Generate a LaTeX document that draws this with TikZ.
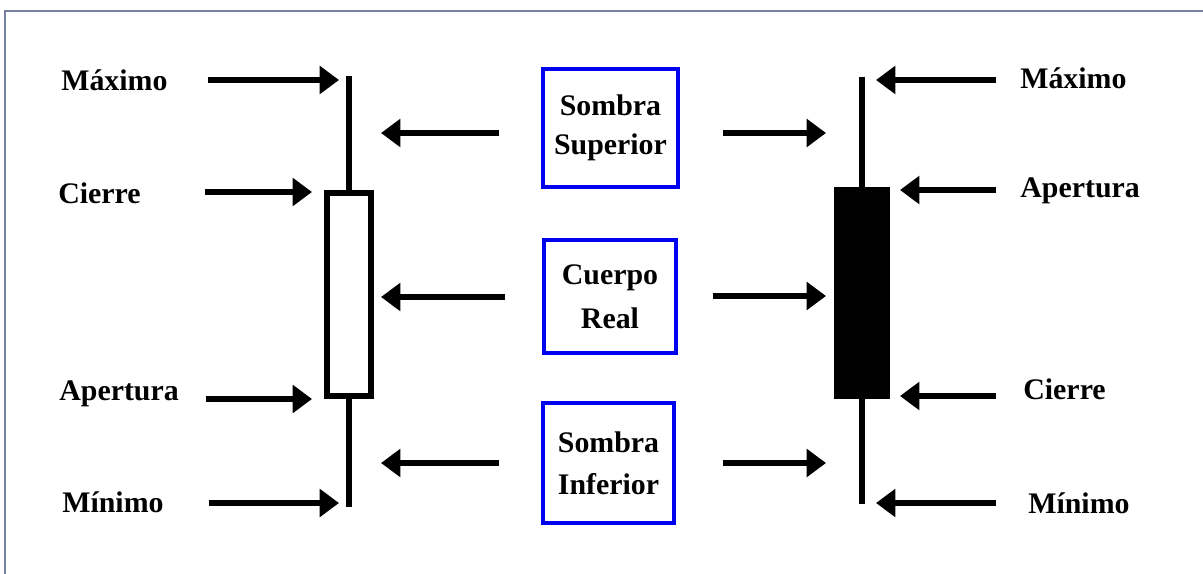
\documentclass[tikz,border=0pt]{standalone}
\usepackage{fontspec}
\setmainfont{Liberation Serif}
\usetikzlibrary{arrows.meta}
\definecolor{framec}{RGB}{118,128,160}
\definecolor{boxblue}{RGB}{0,0,240}

\begin{document}
\begin{tikzpicture}[x=0.02cm,y=-0.02cm,
    arr/.style={line width=3.3pt,-{Triangle[length=11pt,width=15.5pt]}},
    lbl/.style={font=\fontsize{17}{22}\selectfont\bfseries,inner sep=0pt},
    llbl/.style={lbl,anchor=west,text width=2.92cm,align=left},
    rlbl/.style={lbl,anchor=west},
    box/.style={lbl,draw=boxblue,line width=2pt,align=center},
    wick/.style={line width=3.3pt}]
    \useasboundingbox (0,0) rectangle (1203,574);
    \draw[framec,line width=1.2pt] (5,574) -- (5,11) -- (1203,11);

    % left candle
    \node[draw,line width=3.3pt,fill=white,minimum width=0.88cm,minimum height=4.06cm] (BL) at (349,294.5) {};
    \draw[wick] (BL.north) ++(0,-114) -- (BL.north);
    \draw[wick] (BL.south) -- ++(0,108);
    % right candle
    \node[fill=black,minimum width=1.12cm,minimum height=4.24cm] (BR) at (862,293) {};
    \draw[wick] (BR.north) ++(0,-110) -- (BR.north);
    \draw[wick] (BR.south) -- ++(0,105);

    \node[box,minimum width=2.7cm,minimum height=2.36cm] (S1) at (610.5,128) {Sombra\\Superior};
    \node[box,minimum width=2.64cm,minimum height=2.26cm] (S2) at (610,296.5) {Cuerpo\\[3pt]Real};
    \node[box,minimum width=2.62cm,minimum height=2.4cm] (S3) at (608.5,463) {Sombra\\[2pt]Inferior};

    \node[llbl] (L1) at (61,80) {Máximo};
    \node[llbl] (L2) at (58,193) {Cierre};
    \node[llbl] (L3) at (59,394) {Apertura};
    \node[llbl] (L4) at (62,502) {Mínimo};
    \node[rlbl] (R1) at (1020,78) {Máximo};
    \node[rlbl] (R2) at (1020,191) {Apertura};
    \node[rlbl] (R3) at (1023,389) {Cierre};
    \node[rlbl] (R4) at (1028,503) {Mínimo};

    \coordinate (tL1) at (339,80);
    \coordinate (tL2) at (312,192);
    \coordinate (tL3) at (312,399);
    \coordinate (tL4) at (339,503);
    \coordinate (tR1) at (876,80);
    \coordinate (tR2) at (900,190);
    \coordinate (tR3) at (900,396);
    \coordinate (tR4) at (876,503);
    \coordinate (sL1) at (381,133);
    \coordinate (sL2) at (381,297);
    \coordinate (sL3) at (381,463);
    \coordinate (sR1) at (826,133);
    \coordinate (sR2) at (826,296);
    \coordinate (sR3) at (826,463);

    \draw[arr] (L1.east |- tL1) -- (tL1);
    \draw[arr] (L2.east |- tL2) -- (tL2);
    \draw[arr] (L3.east |- tL3) -- (tL3);
    \draw[arr] (L4.east |- tL4) -- (tL4);
    \draw[arr,shorten <=0.48cm] (R1.west |- tR1) -- (tR1);
    \draw[arr,shorten <=0.48cm] (R2.west |- tR2) -- (tR2);
    \draw[arr,shorten <=0.54cm] (R3.west |- tR3) -- (tR3);
    \draw[arr,shorten <=0.64cm] (R4.west |- tR4) -- (tR4);

    \draw[arr,shorten <=0.84cm] (S1.west |- sL1) -- (sL1);
    \draw[arr,shorten <=0.74cm] (S2.west |- sL2) -- (sL2);
    \draw[arr,shorten <=0.84cm] (S3.west |- sL3) -- (sL3);
    \draw[arr,shorten <=0.86cm] (S1.east |- sR1) -- (sR1);
    \draw[arr,shorten <=0.7cm] (S2.east |- sR2) -- (sR2);
    \draw[arr,shorten <=0.94cm] (S3.east |- sR3) -- (sR3);
\end{tikzpicture}
\end{document}
